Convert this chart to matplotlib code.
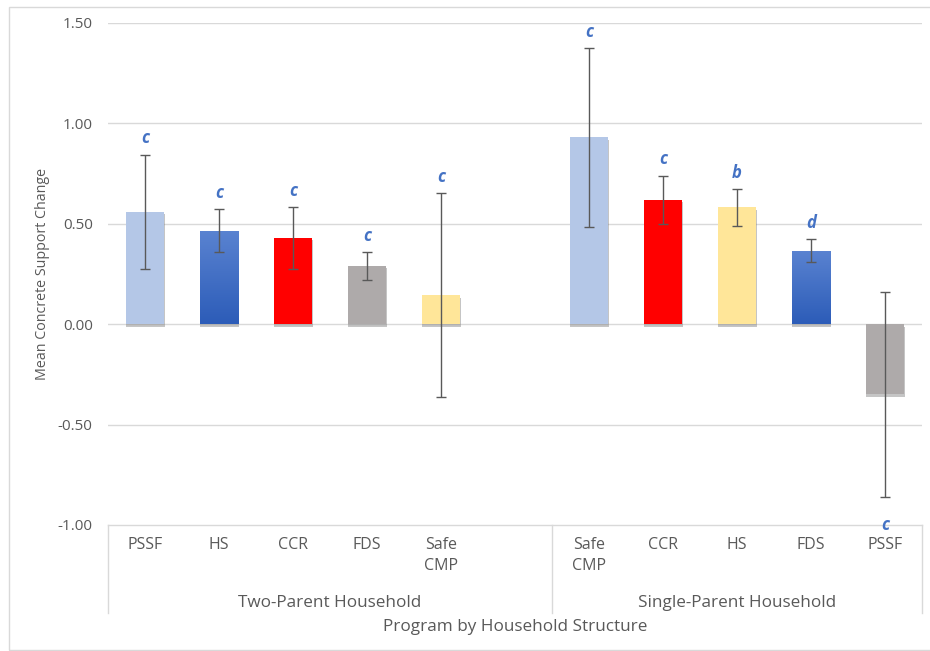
import numpy as np
import matplotlib
matplotlib.use("Agg")
import matplotlib.pyplot as plt
import matplotlib.patheffects as pe
from matplotlib.colors import LinearSegmentedColormap
from matplotlib.patches import Rectangle

plt.rcParams['font.family'] = ['Open Sans', 'DejaVu Sans']

# program means and error half-widths, two-parent then single-parent
groups = ['Two-Parent Household', 'Single-Parent Household']
programs_two = ['PSSF', 'HS', 'CCR', 'FDS', 'Safe\nCMP']
programs_single = ['Safe\nCMP', 'CCR', 'HS', 'FDS', 'PSSF']
means_two = [0.56, 0.465, 0.43, 0.29, 0.145]
means_single = [0.93, 0.62, 0.582, 0.366, -0.35]
errs_two = [0.285, 0.107, 0.155, 0.07, 0.51]
errs_single = [0.447, 0.12, 0.092, 0.057, 0.51]
letters_two = ['c', 'c', 'c', 'c', 'c']
letters_single = ['c', 'c', 'b', 'd', 'c']

program_colors = {
    'PSSF': '#B4C7E7',
    'HS': 'gradient',
    'CCR': '#FF0000',
    'FDS': '#AEAAAA',
    'Safe\nCMP': '#FFE699',
}
single_colors = {
    'Safe\nCMP': '#B4C7E7',
    'CCR': '#FF0000',
    'HS': '#FFE699',
    'FDS': 'gradient',
    'PSSF': '#AEAAAA',
}

blue_grad = LinearSegmentedColormap.from_list('bluegrad', ['#2C5CB8', '#5A83D1'])
txt = '#595959'
grid_c = '#D9D9D9'

W, H = 930, 651
fig = plt.figure(figsize=(W / 100, H / 100), dpi=100)
ax = fig.add_axes([108 / W, 1 - 525 / H, (922 - 108) / W, (525 - 23) / H])

# slot 5 is left empty between the two household groups
x_two = np.arange(5)
x_single = np.arange(6, 11)
xs = np.concatenate([x_two, x_single])
labels = programs_two + programs_single
means = means_two + means_single
errs = errs_two + errs_single
letters = letters_two + letters_single
colors = [program_colors[p] for p in programs_two] + [single_colors[p] for p in programs_single]

ax.set_xlim(-0.5, 10.5)
ax.set_ylim(-1.0, 1.5)

for y in [-0.5, 0.0, 0.5, 1.0, 1.5]:
    ax.axhline(y, color=grid_c, lw=1, zorder=0)

width = 0.52
shadow = [pe.SimplePatchShadow(offset=(0.4, -1.8), shadow_rgbFace='#7F7F7F', alpha=0.45), pe.Normal()]
for x, m, c in zip(xs, means, colors):
    face = '#3F6DC5' if c == 'gradient' else c
    bar = ax.bar(x, m, width=width, color=face, zorder=2)[0]
    bar.set_path_effects(shadow)
    if c == 'gradient':
        grad = np.linspace(0, 1, 256).reshape(-1, 1)
        im = ax.imshow(grad, cmap=blue_grad, origin='lower', aspect='auto',
                       extent=[x - width / 2, x + width / 2, 0, m], zorder=2.5)
        im.set_clip_path(bar)

ax.errorbar(xs, means, yerr=errs, fmt='none', ecolor='#595959', elinewidth=1,
            capsize=3.5, capthick=1, zorder=4)

for x, m, e, l in zip(xs, means, errs, letters):
    if m >= 0:
        ax.annotate(l, xy=(x, m + e), xytext=(0, 8), textcoords='offset points',
                    ha='center', va='baseline', color='#4472C4', fontsize=12,
                    fontweight='bold', fontstyle='italic', clip_on=False)
    else:
        ax.annotate(l, xy=(x, m - e), xytext=(0, -24), textcoords='offset points',
                    ha='center', va='baseline', color='#4472C4', fontsize=12,
                    fontweight='bold', fontstyle='italic', clip_on=False)

ax.set_xlim(-0.5, 10.5)
ax.set_ylim(-1.0, 1.5)
ax.set_yticks([-1.0, -0.5, 0.0, 0.5, 1.0, 1.5])
ax.set_yticklabels([f'{v:.2f}' for v in ax.get_yticks()], color=txt, fontsize=11)
ax.tick_params(axis='y', length=0, pad=11)
ax.set_xticks([])
for s in ax.spines.values():
    s.set_visible(False)

# category box under the plot
trans = ax.get_xaxis_transform()
box_bottom = -(613 - 525) / (525 - 23)
ax.plot([-0.5, 10.5], [0, 0], color=grid_c, lw=1, transform=trans, clip_on=False)
for xv in [-0.5, 5.5, 10.5]:
    ax.plot([xv, xv], [0, box_bottom], color=grid_c, lw=1, transform=trans, clip_on=False)

lab_top = -(537 - 525) / (525 - 23)
for x, l in zip(xs, labels):
    ax.text(x, lab_top, l, transform=trans, ha='center', va='top', color=txt,
            fontsize=11.5, linespacing=1.45)

grp_y = -(603 - 525) / (525 - 23)
ax.text(2.5, grp_y, groups[0], transform=trans, ha='center', va='center', color=txt, fontsize=12.3)
ax.text(8.0, grp_y, groups[1], transform=trans, ha='center', va='center', color=txt, fontsize=12.3)

fig.text(515 / W, 1 - 627 / H, 'Program by Household Structure', ha='center', va='center',
         color=txt, fontsize=12.3)
fig.text(43 / W, 1 - 274 / H, 'Mean Concrete Support Change', ha='center', va='center',
         rotation=90, color=txt, fontsize=10.3)

# chart area border
fig.patches.append(Rectangle((9 / W, 1 - 650 / H), (W + 10) / W, (650 - 7) / H,
                             transform=fig.transFigure, fill=False, edgecolor=grid_c, lw=1))

fig.savefig('out.png', dpi=100)
